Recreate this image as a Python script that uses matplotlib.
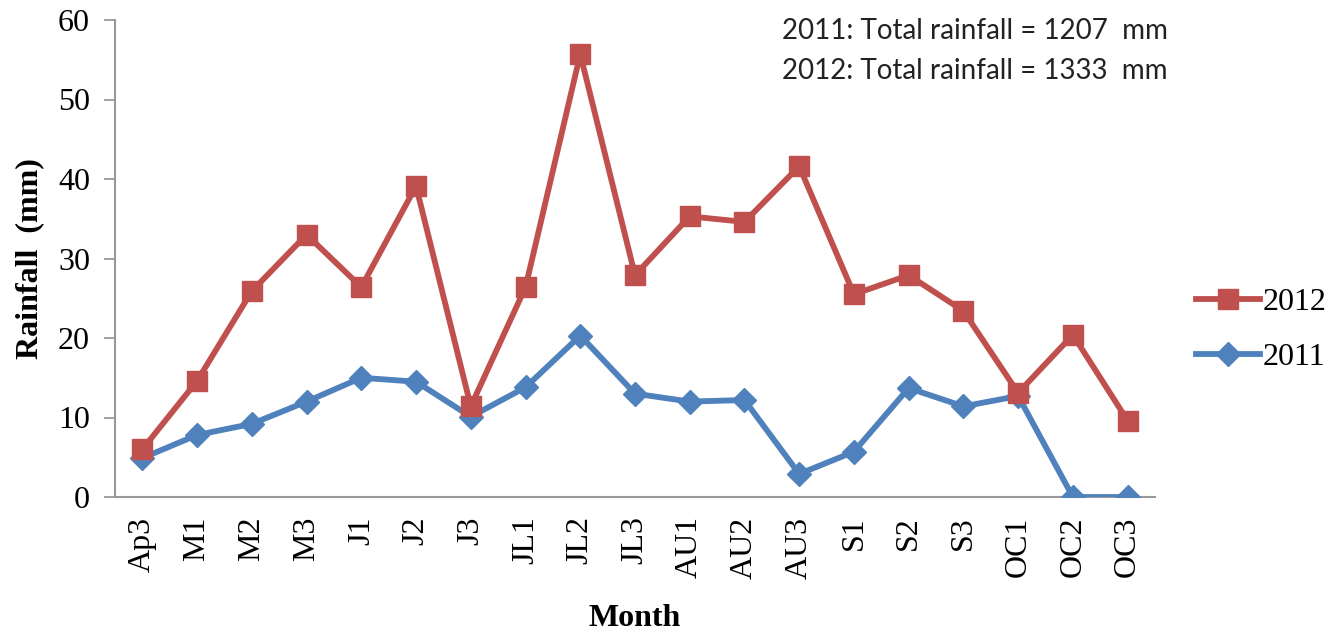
import matplotlib
matplotlib.use("Agg")
import matplotlib.pyplot as plt

# Ten-day rainfall periods
periods = ["Ap3", "M1", "M2", "M3", "J1", "J2", "J3", "JL1", "JL2", "JL3",
           "AU1", "AU2", "AU3", "S1", "S2", "S3", "OC1", "OC2", "OC3"]
rain_2012 = [6.0, 14.6, 25.9, 33.0, 26.4, 39.1, 11.4, 26.4, 55.7, 27.9,
             35.3, 34.6, 41.6, 25.5, 27.9, 23.4, 13.1, 20.4, 9.6]
rain_2011 = [4.9, 7.8, 9.2, 12.0, 15.0, 14.5, 10.1, 13.8, 20.3, 13.0,
             12.0, 12.2, 2.9, 5.7, 13.7, 11.4, 12.7, 0.0, 0.0]
yticks = [0, 10, 20, 30, 40, 50, 60]
notes = ["2011: Total rainfall = 1207  mm", "2012: Total rainfall = 1333  mm"]

RED = "#C0504D"
BLUE = "#4F81BD"
SERIF = "Liberation Serif"

fig = plt.figure(figsize=(13.44, 6.31), dpi=100)
ax = fig.add_axes([115 / 1344, 1 - 497 / 631, 1040 / 1344, 477 / 631])

x = list(range(len(periods)))
ax.plot(x, rain_2011, color=BLUE, lw=4.2, marker="D", ms=12,
        label="2011", zorder=3, solid_joinstyle="round")
ax.plot(x, rain_2012, color=RED, lw=4.2, marker="s", ms=14,
        label="2012", zorder=4, solid_joinstyle="round")

ax.set_xlim(-0.5, len(periods) - 0.5)
ax.set_ylim(0, 60)
ax.set_yticks(yticks)
ax.set_xticks(x)
ax.set_xticklabels(periods, rotation=90, fontsize=23, family=SERIF)
ax.set_yticklabels([str(v) for v in yticks], fontsize=23, family=SERIF)
ax.tick_params(axis="x", length=0, pad=14)
ax.tick_params(axis="y", direction="out", length=8, width=1.3,
               color="#999999", pad=10)

for side in ("top", "right"):
    ax.spines[side].set_visible(False)
for side in ("left", "bottom"):
    ax.spines[side].set_color("#999999")
    ax.spines[side].set_linewidth(1.5)

ax.set_xlabel("Month", fontsize=23, family=SERIF, fontweight="bold", labelpad=18)
ax.set_ylabel("Rainfall  (mm)", fontsize=23, family=SERIF, fontweight="bold", labelpad=10)

handles, labels = ax.get_legend_handles_labels()
leg = fig.legend(handles[::-1], labels[::-1], loc="upper left",
                 bbox_to_anchor=(1196 / 1344, 1 - 288 / 631), frameon=False,
                 prop={"family": SERIF, "size": 23}, handlelength=2.0,
                 handletextpad=0.1, labelspacing=0.8, borderpad=0,
                 borderaxespad=0)

fig.text(782 / 1344, 1 - 31 / 631, notes[0], fontsize=20, family="Lato",
         va="center", ha="left", color="#222222")
fig.text(782 / 1344, 1 - 71 / 631, notes[1], fontsize=20, family="Lato",
         va="center", ha="left", color="#222222")

fig.savefig("out.png", dpi=100)
